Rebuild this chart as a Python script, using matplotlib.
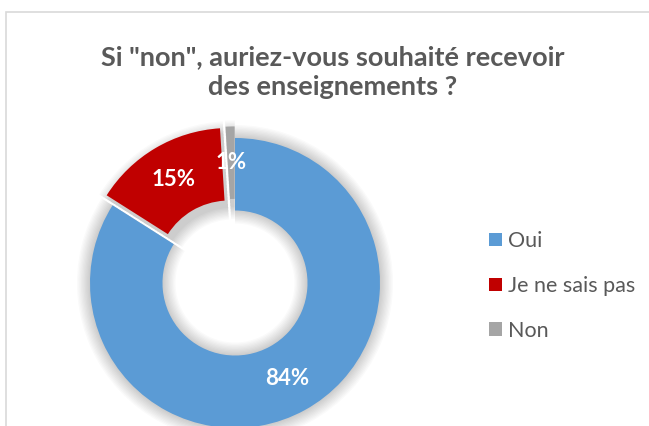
import numpy as np
import matplotlib.pyplot as plt
from matplotlib.patches import Rectangle

# Data
categories = ['Oui', 'Je ne sais pas', 'Non']
values = [84, 15, 1]
pct_labels = ['84%', '15%', '1%']
colors = ['#5B9BD5', '#C00000', '#A5A5A5']
explode = [0.0, 0.08, 0.08]

title = 'Si "non", auriez-vous souhaité recevoir\ndes enseignements ?'

plt.rcParams['font.family'] = ['Lato', 'DejaVu Sans']

W, H = 649, 426
fig = plt.figure(figsize=(W / 100, H / 100), dpi=100)
fig.patch.set_facecolor('white')

# chart frame (cut off on the right and bottom like the screenshot)
fig.patches.append(Rectangle((6 / W, -0.1), 1.2, (H - 12) / H + 0.1,
                             transform=fig.transFigure, fill=False,
                             edgecolor='#D9D9D9', linewidth=1.2))

# pie axes: center at (235, 283) px, radius 145 px
cx, cy, R, half = 235, 283, 145, 160
ax = fig.add_axes([(cx - half) / W, (H - cy - half) / H, 2 * half / W, 2 * half / H])

# soft shadow behind the ring (Excel style glow), slightly less exploded
# so that the gaps between slices get a grey tint
shadow_explode = [e * 0.4 for e in explode]
for k in range(1, 11):
    ax.pie(values, colors=['black'] * len(values), explode=shadow_explode,
           startangle=90, counterclock=False, radius=1.0 + 0.009 * k,
           wedgeprops=dict(width=0.5 + 0.018 * k, edgecolor='none',
                           alpha=0.018, zorder=0))

wedges, texts, autotexts = ax.pie(
    values, colors=colors, explode=explode, startangle=90, counterclock=False,
    radius=1.0, wedgeprops=dict(width=0.5, edgecolor='none', zorder=2),
    autopct='%1.0f%%', pctdistance=0.75,
    textprops=dict(color='white', fontsize=16, fontweight='bold', zorder=3))
for t, lab in zip(autotexts, pct_labels):
    t.set_text(lab)

lim = half / R
ax.set_xlim(-lim, lim)
ax.set_ylim(-lim, lim)
ax.set_aspect('equal')
ax.axis('off')

fig.text(333 / W, 1 - 72 / H, title, ha='center', va='center',
         fontsize=19.5, fontweight='bold', color='#595959', linespacing=1.3)

fig.legend(wedges, categories, loc='center left',
           bbox_to_anchor=(489 / W, 1 - 286 / H), frameon=False, borderpad=0,
           borderaxespad=0, fontsize=15.5, labelcolor='#595959',
           handlelength=0.6, handleheight=0.6, handletextpad=0.3,
           labelspacing=1.15)

fig.savefig('out.png', dpi=100)
